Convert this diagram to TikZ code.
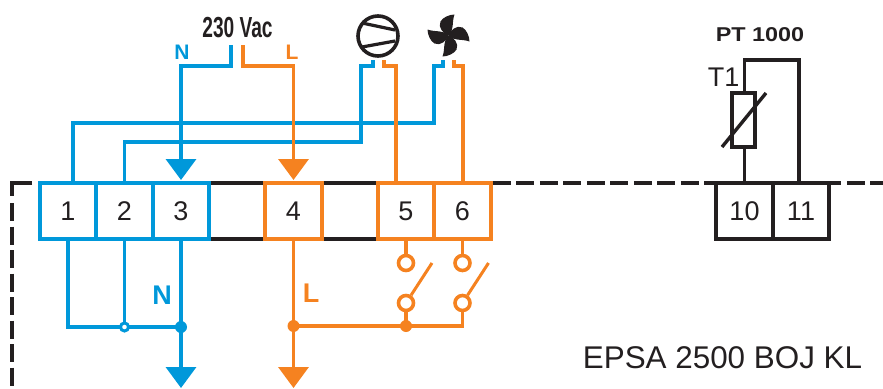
\documentclass[tikz,border=0pt]{standalone}
\usepackage{fontspec}
\setmainfont{Liberation Sans}
\usepackage{tikz}
\usetikzlibrary{calc}
\usetikzlibrary{arrows.meta}
\usetikzlibrary{positioning}
\definecolor{wireN}{RGB}{0,152,218}
\definecolor{wireL}{RGB}{245,130,32}
\definecolor{inkK}{RGB}{35,31,32}
\newcommand{\fsize}[1]{\fontsize{#1}{#1}\selectfont}

\begin{document}
\begin{tikzpicture}[
x=1pt,y=-1pt,
line join=miter,
BlueWire/.style={draw=wireN,line width=3.6pt},
OrangeWire/.style={draw=wireL,line width=3.6pt},
BlackWire/.style={draw=inkK,line width=3.6pt},
HousingLine/.style={BlackWire,shorten <=2pt,shorten >=2pt},
FrameLine/.style={draw=inkK,line width=3.4pt,dash pattern=on 18pt off 5.5pt},
BlueArrow/.style={BlueWire,-{Triangle[length=21pt,width=30pt]}},
OrangeArrow/.style={OrangeWire,-{Triangle[length=21pt,width=30pt]}},
Terminal/.style={rectangle,line width=4pt,outer sep=0pt,inner sep=0pt,minimum width=56.5pt,minimum height=56pt,text=inkK,font=\fsize{27}},
BlueBox/.style={Terminal,draw=wireN},
OrangeBox/.style={Terminal,draw=wireL},
BlackBox/.style={Terminal,draw=inkK,minimum width=56.5pt},
BlueDot/.style={circle,fill=wireN,inner sep=0pt,minimum size=12pt},
OrangeDot/.style={circle,fill=wireL,inner sep=0pt,minimum size=12pt},
OpenDot/.style={circle,draw=wireN,fill=white,line width=3pt,inner sep=0pt,minimum size=8pt},
SwitchPin/.style={circle,draw=wireL,fill=white,line width=3.6pt,inner sep=0pt,minimum size=15pt}
]
\useasboundingbox (0,0) rectangle (883,388);

% terminals
\coordinate (Start) at (68,211);
\node[BlueBox] (T1) at (Start) {1};
\node[BlueBox,right=0pt of T1] (T2) {2};
\node[BlueBox,right=0pt of T2] (T3) {3};
\node[OrangeBox] (T4) at (293.5,211) {4};
\node[OrangeBox] (T5) at (406,211) {5};
\node[OrangeBox,right=0pt of T5] (T6) {6};
\node[BlackBox] (T10) at (744.5,211) {10};
\node[BlackBox,right=0pt of T10] (T11) {11};

% housing outline
\draw[HousingLine] (T3.north east)--(T4.north west);
\draw[HousingLine] (T3.south east)--(T4.south west);
\draw[HousingLine] (T4.north east)--(T5.north west);
\draw[HousingLine] (T4.south east)--(T5.south west);
\draw[FrameLine,shorten <=2pt] (T6.north east)--(T10.north west);
\draw[FrameLine,dash phase=6pt] (T11.north east)--(883,183);
\draw[BlackWire,line width=3.4pt] (32,183)--(12,183)--(12,196);
\draw[FrameLine] (12,203)--(12,388);

% icons
\node[circle,draw=inkK,line width=3.6pt,inner sep=0pt,minimum size=40pt] (Compressor) at (378,36) {};
\draw[BlackWire,line width=3.2pt] (362,23)--(395,30);
\draw[BlackWire,line width=3.2pt] (362,47)--(395,41);
\coordinate (Fan) at (448.5,35.5);
\foreach \Angle in {0,90,180,270}
	\fill[inkK,shift={(Fan)},rotate=\Angle] (0,0) .. controls (-5,-2) and (-11,-8) .. (-8,-14) .. controls (-6,-18) and (1,-21) .. (6,-21) .. controls (3,-13) and (6,-5) .. (0,0);

% supply and load wires, blue
\coordinate (SupplyN) at (231,45);
\coordinate (SupplyL) at (243,45);
\coordinate (CompN) at (373,60);
\coordinate (CompL) at (384,60);
\coordinate (FanN) at (443,60);
\coordinate (FanL) at (454,60);
\coordinate (BusFan) at (73,123);
\coordinate (BusComp) at (124.5,142);
\coordinate (OutN) at (181,388);
\coordinate (OutL) at (293.5,388);

\draw[BlueWire] (FanN)--(443,66)--(434,66)--(434,123)--(BusFan)--(BusFan |- T1.north);
\draw[BlueWire] (CompN)--(373,66)--(361,66)--(361,142)--(BusComp)--(BusComp |- T2.north);
\draw[BlueArrow,shorten >=3pt] (SupplyN)--(231,66)--(181,66)--(T3.north);
\draw[BlueWire] (T1.south)--(68,327)--(181,327);
\draw[BlueWire] (T2.south)--(124.5,327);
\draw[BlueArrow] (T3.south)--(OutN);
\node[BlueDot] (DotN) at (181,327) {};
\node[OpenDot] (DotT) at (124.5,327) {};

% orange
\draw[OrangeArrow,shorten >=3pt] (SupplyL)--(243,66)--(293.5,66)--(T4.north);
\draw[OrangeWire] (CompL)--(384,66)--(396,66)--(396,183);
\draw[OrangeWire] (FanL)--(454,66)--(463,66)--(463,183);
\draw[OrangeArrow] (T4.south)--(OutL);

% switches
\node[SwitchPin] (S5a) at (406,263) {};
\node[SwitchPin] (S5b) at (406,303) {};
\node[SwitchPin] (S6a) at (462.5,263) {};
\node[SwitchPin] (S6b) at (462.5,303) {};
\coordinate (Blade5) at (432,263);
\coordinate (Blade6) at (488.5,263);
\draw[OrangeWire] (T5.south)--(S5a);
\draw[OrangeWire] (T6.south)--(S6a);
\draw[OrangeWire,line width=3pt] (S5b)--(Blade5);
\draw[OrangeWire,line width=3pt] (S6b)--(Blade6);
\draw[OrangeWire] (293.5,326)--(462.5,326)--(S6b);
\draw[OrangeWire] (S5b)--(406,326);
\node[OrangeDot] (DotL) at (293.5,326) {};
\node[OrangeDot] (DotS) at (406,326) {};

% sensor
\coordinate (SensorA) at (744.5,60);
\coordinate (SensorB) at (799,60);
\node[rectangle,draw=inkK,line width=3.4pt,inner sep=0pt,outer sep=0pt,minimum width=23pt,minimum height=54pt] (Sensor) at (743.5,120) {};
\draw[BlackWire,line width=3.4pt] (T10.north -| SensorA)--(Sensor.south -| SensorA);
\draw[BlackWire,line width=3.4pt] (Sensor.north -| SensorA)--(SensorA)--(SensorB)--(SensorB |- T11.north);
\draw[BlackWire,line width=3.4pt] (722,147)--(766,93);

% labels
\node[text=inkK] (Volt) at (237.5,27.5) {\fsize{29}\bfseries\scalebox{.66}[1]{230 Vac}};
\node[text=wireN] (LabN) at (182,52) {\fsize{21}\bfseries N};
\node[text=wireL] (LabL) at (292,52) {\fsize{21}\bfseries L};
\node[text=wireN] (LabNb) at (162,295) {\fsize{27}\bfseries N};
\node[text=wireL] (LabLb) at (311,293) {\fsize{27}\bfseries L};
\node[text=inkK] (LabPT) at (760,34.5) {\fsize{20}\bfseries\scalebox{1.17}[1]{PT 1000}};
\node[text=inkK] (LabT) at (723.5,77) {\fsize{27}T1};
\node[text=inkK] (LabType) at (722.5,357.5) {\fsize{31.4}EPSA 2500 BOJ KL};

\end{tikzpicture}
\end{document}
